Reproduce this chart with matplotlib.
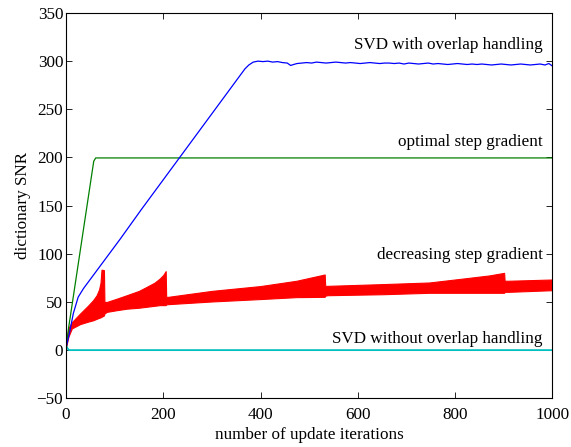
import numpy as np
import matplotlib
matplotlib.use('Agg')
import matplotlib.pyplot as plt

plt.rcParams['font.family'] = ['Liberation Serif', 'DejaVu Serif']

# ---------------- data ----------------
# SVD with overlap handling (blue)
svd_x = [0, 8, 15, 25, 36, 111, 155, 368, 376, 385, 395, 405, 415, 425, 435, 445,
         455, 462, 468, 475, 485, 495, 505, 515, 525, 535, 545, 555, 565, 575, 585,
         595, 605, 615, 625, 635, 645, 655, 665, 675, 685, 695, 705, 715, 725, 735,
         745, 755, 765, 775, 785, 795, 805, 815, 825, 835, 845, 855, 865, 875, 885,
         895, 905, 915, 925, 935, 945, 955, 965, 975, 985, 993, 1000]
svd_y = [2, 20, 38, 55, 64, 115, 146, 292, 296, 299, 300, 299.5, 300, 299, 299.5, 298.5,
         298, 295.5, 296.5, 297.5, 298, 298.5, 298, 299, 298.5, 298, 298.5, 299, 298.5,
         298, 298.5, 298, 297.5, 298, 298.5, 298, 297.5, 298, 298, 297.5, 298, 297,
         298, 297.5, 297, 297.5, 298, 297, 297.5, 297, 296.5, 297, 297.5, 297, 296.5,
         297, 296.5, 297, 296.5, 296, 296.5, 297, 296.5, 296, 296.5, 297, 296.5, 296,
         296.5, 297, 296, 297.5, 295]

# optimal step gradient (green)
opt_x = [0, 5, 57, 61, 1000]
opt_y = [3, 22, 196, 199.5, 199.5]

# decreasing step gradient (red), band between lower and upper envelope
dec_x = [0, 5, 12, 29, 45, 56, 63, 68, 71, 73, 78, 79, 84, 105, 125, 150, 166, 182,
         193, 200, 205, 206, 210, 300, 400, 474, 532, 533, 538, 650, 747, 820, 870,
         901, 902, 910, 1000]
dec_lo = [3, 14, 22.5, 27, 29.5, 31, 32.5, 33.5, 34, 34.6, 36, 38, 39.7, 41.5, 43, 44,
          45, 46, 46.7, 46.7, 46.7, 47.5, 47.7, 50.5, 53, 55, 55.3, 56.5, 57, 58,
          59.5, 59.5, 59.5, 59.5, 60.5, 60.5, 62.2]
dec_hi = [5, 23, 29, 38, 46, 52, 57, 63, 70, 83.5, 83, 50, 50, 53.5, 57, 61.5, 65.7,
          70, 74.4, 78, 82, 55.3, 55.3, 61.5, 66.5, 72, 78.5, 66.7, 66.7, 68.5, 70.2,
          74.5, 77.5, 80.2, 72, 72, 73.3]

# SVD without overlap handling (cyan)
nov_x = [0, 3, 6, 1000]
nov_y = [5, 2, 0, 0]

labels = ['SVD with overlap handling', 'optimal step gradient',
          'decreasing step gradient', 'SVD without overlap handling']
label_y = [317, 216, 98.5, 12]

# ---------------- plotting ----------------
fig = plt.figure(figsize=(5.71, 4.47), dpi=100)
ax = fig.add_axes([0.1156, 0.109, 0.8516, 0.862])

ax.fill_between(dec_x, dec_lo, dec_hi, color=(1, 0, 0), linewidth=0.8,
                edgecolor=(1, 0, 0))
ax.plot(opt_x, opt_y, color=(0, 0.5, 0), linewidth=0.9)
ax.plot(svd_x, svd_y, color=(0, 0, 1), linewidth=0.9)
ax.plot(nov_x, nov_y, color=(0, 0.75, 0.75), linewidth=1.3)

for lab, ly in zip(labels, label_y):
    ax.text(980, ly, lab, ha='right', va='center', fontsize=12.3)

ax.set_xlim(0, 1000)
ax.set_ylim(-50, 350)
ax.set_xticks(np.arange(0, 1001, 200))
ax.set_yticks(np.arange(-50, 351, 50))
ax.set_yticklabels([('\u221250' if v < 0 else str(v)) for v in range(-50, 351, 50)])
ax.tick_params(direction='in', top=True, right=True, length=4, width=0.6,
               labelsize=12.3)
ax.tick_params(axis='x', pad=6)
ax.tick_params(axis='y', pad=2)
for s in ax.spines.values():
    s.set_linewidth(0.8)

ax.set_xlabel('number of update iterations', fontsize=12.3, labelpad=3)
ax.set_ylabel('dictionary SNR', fontsize=12.3, labelpad=4)

fig.savefig('out.png', dpi=100)
